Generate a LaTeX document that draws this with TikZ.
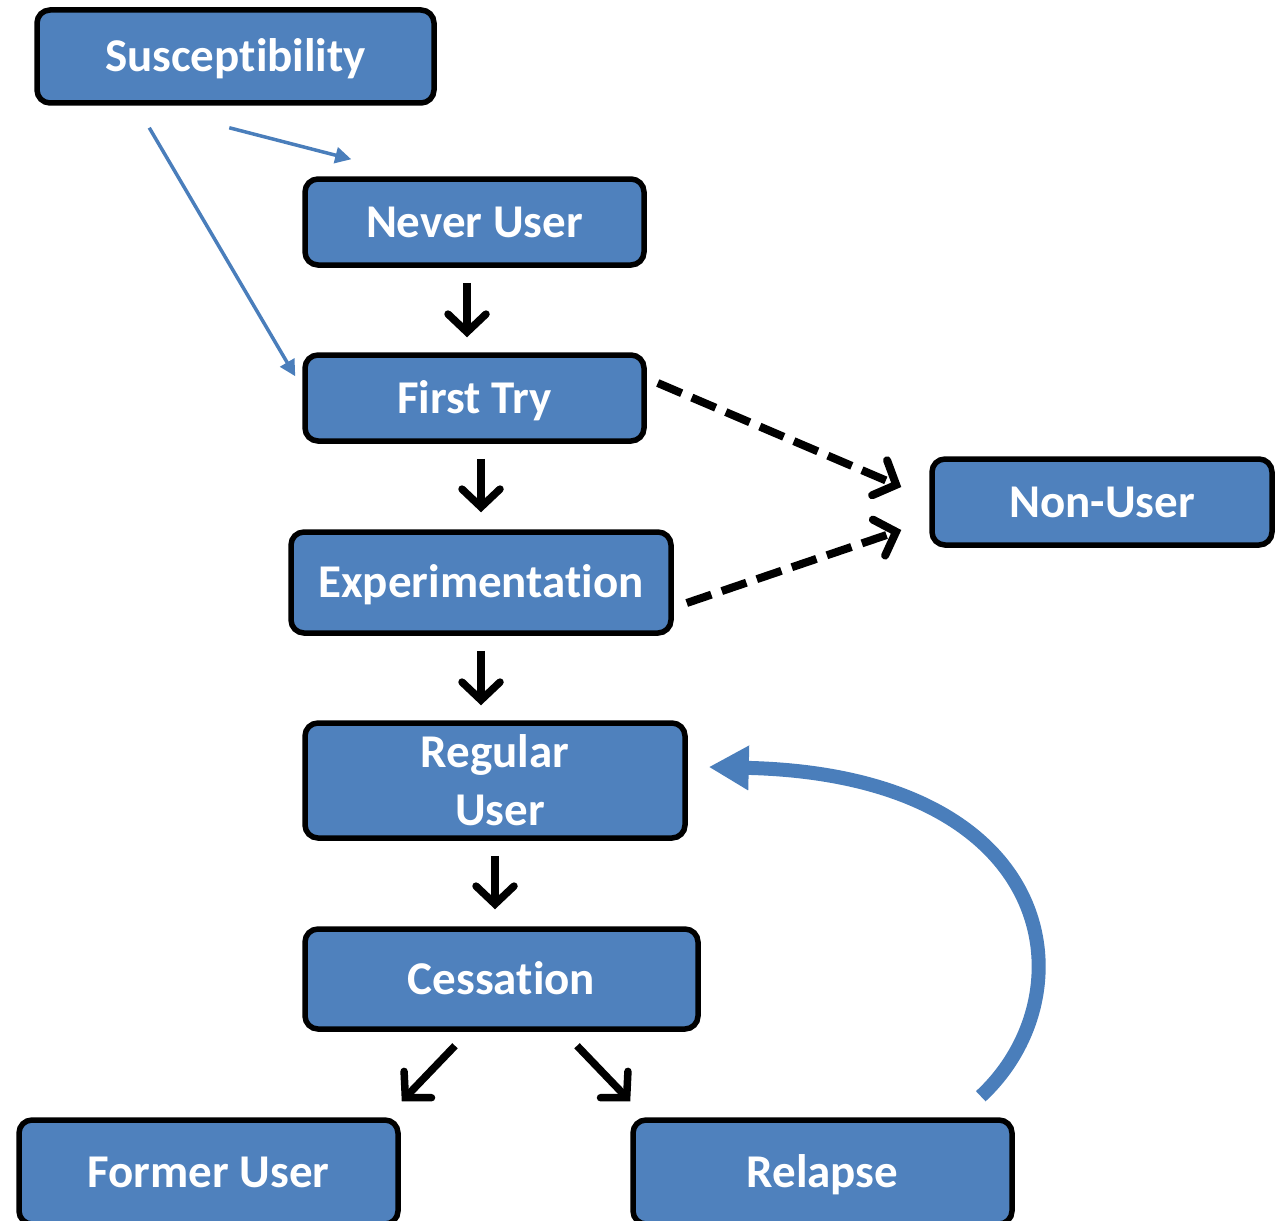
\documentclass[tikz,border=0pt]{standalone}
\usepackage{fontspec}
\setmainfont{Carlito}[RawFeature={-liga;-clig;-calt;-dlig}]
\usetikzlibrary{arrows.meta,calc}
\definecolor{boxblue}{HTML}{4F81BD}
\definecolor{arrblue}{HTML}{4A7EBB}
\begin{document}
\begin{tikzpicture}[x=1pt,y=-1pt,
  stage/.style={draw=black, line width=5.5pt, fill=boxblue, rounded corners=13pt,
    text=white, inner sep=0pt, align=center,
    font=\fontsize{47}{58}\selectfont\bfseries},
  one/.style={text height=30pt, text depth=0pt},
  blk/.style={draw=black, line width=7.5pt, -{Straight Barb[length=18pt,width=38pt,line cap=round]}},
  dsh/.style={draw=black, line width=8pt, dash pattern=on 26pt off 11pt,
    -{Straight Barb[length=18pt,width=38pt,line cap=round]}},
  thin/.style={draw=arrblue, line width=3.5pt, -{Triangle[length=16pt,width=16pt]}},
  thick/.style={draw=arrblue, line width=14pt, -{Triangle[length=40pt,width=42pt]}}
]
\useasboundingbox (0,0) rectangle (1281,1220);
\node[stage, one, minimum width=397pt, minimum height=93pt] (susc) at (235.5,56.5) {Susceptibility};
\node[stage, one, minimum width=339pt, minimum height=86pt] (never) at (474.5,222) {Never User};
\node[stage, one, minimum width=339pt, minimum height=86pt] (first) at (474.5,398) {First Try};
\node[stage, one, minimum width=380pt, minimum height=101pt] (exp) at (481,582.5) {Experimentation};
\node[stage, one, minimum width=340pt, minimum height=86pt] (non) at (1102,502) {Non-User};
\node[stage, minimum width=380pt, minimum height=115pt] (reg) at (495,780.5) {Regular\\\hspace*{10pt}User};
\node[stage, one, minimum width=393pt, minimum height=100pt] (cess) at (501.5,979) {Cessation};
\node[stage, one, minimum width=379pt, minimum height=104pt] (former) at (208.5,1172) {Former User};
\node[stage, one, minimum width=379pt, minimum height=104pt] (relapse) at (822.5,1172) {Relapse};

% thin blue arrows
\draw[thin] ($(susc.south west)+(115,22)$) -- ($(first.north west)+(-7,24)$);
\draw[thin] ($(susc.south west)+(195,22)$) -- ($(never.north west)+(49,-17)$);

% black arrows
\draw[blk] ($(never.south)+(-7.5,15)$) -- ($(first.north)+(-7.5,-15)$);
\draw[blk] ($(first.south)+(6.5,15)$) -- ($(exp.north)+(0,-17)$);
\draw[blk] ($(exp.south)+(0,15)$) -- ($(reg.north)+(-14,-15)$);
\draw[blk] ($(reg.south)+(0,15)$) -- ($(cess.north)+(-6.5,-17)$);
\draw[blk] ($(cess.south)+(-46.5,14)$) -- ($(former.north east)+(1,-16)$);
\draw[blk] ($(cess.south)+(75.5,14)$) -- ($(relapse.north west)+(0,-16)$);

% dashed arrows
\draw[dsh] ($(first.east)+(11,-15)$) -- ($(non.west)+(-28,-15)$);
\draw[dsh] ($(exp.east)+(13,20.5)$) -- ($(non.west)+(-28,28)$);

% relapse loop
\draw[thick] ($(relapse.north east)+(-34,-21)$) .. controls (1090,995) and (1062,775) .. ($(reg.east)+(21,-13.5)$);
\end{tikzpicture}
\end{document}
